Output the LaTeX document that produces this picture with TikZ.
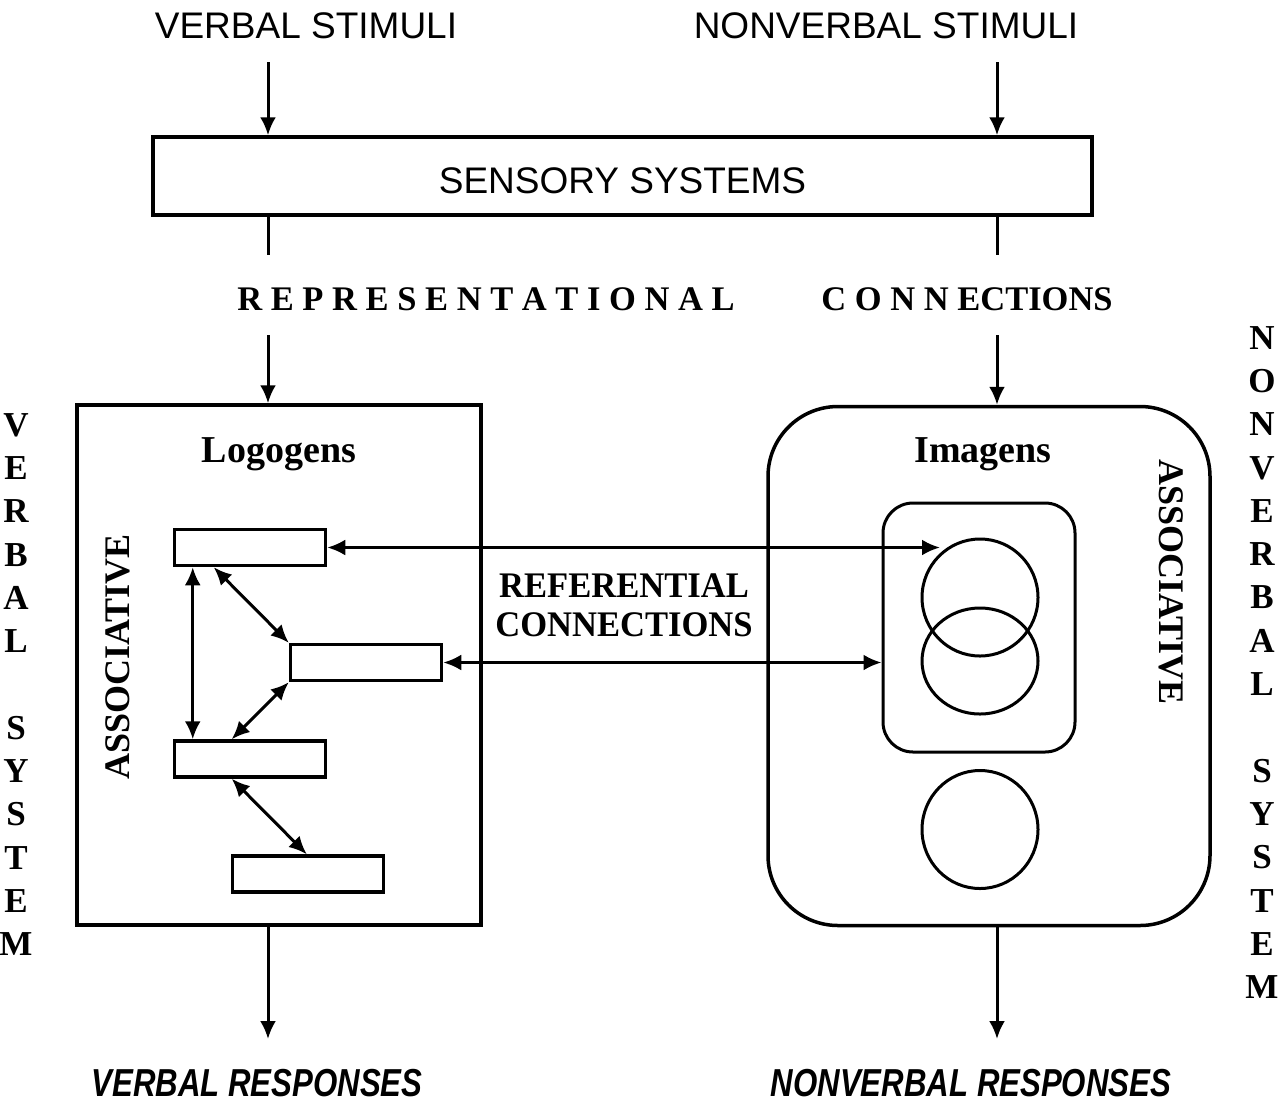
\documentclass[tikz,border=0pt]{standalone}
\usepackage{fontspec}
\setmainfont{Liberation Serif}
\newfontfamily\arialfont{Liberation Sans}
\usetikzlibrary{arrows.meta,shapes.geometric}

\begin{document}
\begin{tikzpicture}[x=1pt,y=-1pt]
\tikzset{box/.style = {draw,line width=3.5pt,inner sep=0pt}}
\tikzset{cell/.style = {box,minimum width=151pt,minimum height=36pt}}
\tikzset{blob/.style = {draw,ellipse,line width=3pt,inner sep=0pt,minimum width=116pt}}
\tikzset{flow/.style = {->,line width=3pt,> = {Latex[length=18pt,width=16pt]}}}
\tikzset{edge/.style = {<->,line width=3pt,> = {Latex[length=18pt,width=16pt]}}}
\tikzset{plain/.style = {line width=3pt}}
\tikzset{sans/.style = {font=\arialfont\fontsize{37}{44}\selectfont,anchor=base,inner sep=0pt}}
\tikzset{heavy/.style = {font=\bfseries\fontsize{34.5}{40}\selectfont,inner sep=0pt}}
\tikzset{column/.style = {font=\bfseries\fontsize{35}{43.3}\selectfont,align=center,anchor=north,inner sep=0pt}}
\tikzset{reply/.style = {font=\arialfont\bfseries\itshape\fontsize{39}{46}\selectfont,anchor=base,inner sep=0pt}}
\useasboundingbox (0,0) rectangle (1285,1104);
% titles
\node[sans] (vstim) at (306,38) {VERBAL STIMULI};
\node[sans] (nstim) at (886,38) {NONVERBAL STIMULI};
\node[box,minimum width=939pt,minimum height=78pt,text height=34pt,text depth=0pt,font=\arialfont\fontsize{37}{44}\selectfont] (sensory) at (622.5,176) {SENSORY SYSTEMS};
\node[heavy,anchor=base] (rep) at (486,310) {R E P R E S E N T A T I O N A L};
\node[heavy,anchor=base] (con) at (967,310) {C O N N ECTIONS};
\node[column] (vsys) at (16,413) {V\\E\\R\\B\\A\\L\\[43.3pt]S\\Y\\S\\T\\E\\M};
\node[column] (nsys) at (1262,326) {N\\O\\N\\V\\E\\R\\B\\A\\L\\[43.3pt]S\\Y\\S\\T\\E\\M};
% verbal side
\node[box,minimum width=404pt,minimum height=520pt] (logo) at (279,665) {};
\node[heavy,anchor=base,font=\bfseries\fontsize{38}{44}\selectfont] (logolab) at (279,462) {Logogens};
\node[heavy,rotate=90,font=\bfseries\fontsize{36}{40}\selectfont] (vassoc) at (118,657) {ASSOCIATIVE};
\node[cell] (lg1) at (250,547.5) {};
\node[cell] (lg2) at (366,662.5) {};
\node[cell] (lg3) at (250,759) {};
\node[cell] (lg4) at (308,874) {};
% nonverbal side
\node[box,rounded corners=70pt,minimum width=442pt,minimum height=519pt] (imag) at (989,666) {};
\node[heavy,anchor=base,font=\bfseries\fontsize{38}{44}\selectfont] (imaglab) at (983,462) {Imagens};
\node[heavy,rotate=-90,font=\bfseries\fontsize{36}{40}\selectfont] (nassoc) at (1171,582) {ASSOCIATIVE};
\node[box,line width=3pt,rounded corners=30pt,minimum width=192pt,minimum height=249pt] (inner) at (979,627.5) {};
\node[blob,minimum height=117pt] (im1) at (980,597.5) {};
\node[blob,minimum height=106pt] (im2) at (980,661) {};
\node[blob,minimum height=118pt] (im3) at (980,829.5) {};
\node[heavy,align=center,anchor=north,font=\bfseries\fontsize{36}{39}\selectfont] (refer) at (624,574) {\scalebox{0.96}[1]{REFERENTIAL}\\\scalebox{0.96}[1]{CONNECTIONS}};
\node[reply] (vresp) at (257,1096) {\scalebox{0.8}[1]{VERBAL RESPONSES}};
\node[reply] (nresp) at (971,1096) {\scalebox{0.8}[1]{NONVERBAL RESPONSES}};
% free ends
\coordinate (vin) at (268,62);
\coordinate (nin) at (997,62);
\coordinate (vmid) at (268,255);
\coordinate (nmid) at (997,255);
\coordinate (vrep) at (268,335);
\coordinate (nrep) at (997,335);
\coordinate (vout) at (268,1039);
\coordinate (nout) at (997,1039);
\coordinate (refa) at (940,547.5);
%edges
\draw[flow] (vin) -- (vin |- sensory.north);
\draw[flow] (nin) -- (nin |- sensory.north);
\draw[plain] (vin |- sensory.south) -- (vmid);
\draw[plain] (nin |- sensory.south) -- (nmid);
\draw[flow] (vrep) -- (vrep |- logo.north);
\draw[flow] (nrep) -- (nrep |- imag.north);
\draw[flow] (vrep |- logo.south) -- (vout);
\draw[flow] (nrep |- imag.south) -- (nout);
\draw[edge] ([xshift=20pt]lg1.south west) -- ([xshift=20pt]lg3.north west);
\draw[edge] ([xshift=41pt]lg1.south west) -- (lg2.north west);
\draw[edge] (lg2.south west) -- ([xshift=59pt]lg3.north west);
\draw[edge] ([xshift=59pt]lg3.south west) -- ([xshift=76pt]lg4.north west);
\draw[edge] (lg1.east) -- (refa);
\draw[edge] (lg2.east) -- (lg2.east -| inner.west);
\end{tikzpicture}
\end{document}
